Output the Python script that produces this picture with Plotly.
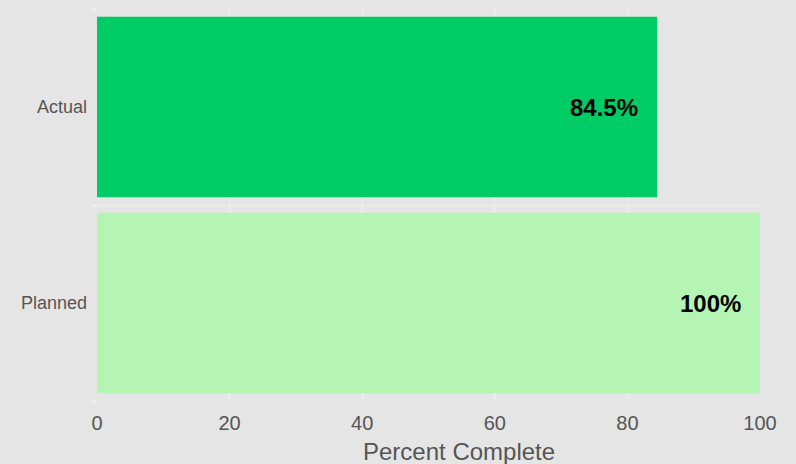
import plotly.graph_objects as go

stages = ["Planned", "Actual"]
percent = [100, 84.5]
labels = ["100%", "84.5%"]
bar_colors = ["#b4f5b4", "#00cc66"]

fig = go.Figure(go.Bar(
    x=percent, y=stages, orientation="h",
    marker=dict(color=bar_colors, line=dict(width=0)),
    hoverinfo="skip",
))

for val, stage, lab in zip(percent, stages, labels):
    fig.add_annotation(x=val, y=stage, text="<b>" + lab + "</b>", showarrow=False,
                       xanchor="right", xshift=-17,
                       font=dict(family="Arial", size=24, color="black"))

# axis title as annotation (sits right of centre in the original)
fig.add_annotation(x=0.546, y=-0.128, xref="paper", yref="paper",
                   text="Percent Complete", showarrow=False,
                   xanchor="center", yanchor="middle",
                   font=dict(family="Arial", size=24, color="#555555"))

fig.update_layout(
    width=796, height=464,
    margin=dict(l=97, r=36, t=9, b=63),
    paper_bgcolor="#e5e5e5", plot_bgcolor="#e5e5e5",
    bargap=0.08,
    showlegend=False,
    font=dict(family="Arial", color="#555555"),
)
fig.update_xaxes(
    range=[0, 100], dtick=20,
    tickfont=dict(size=20, color="#555555"),
    ticklabelstandoff=8,
    showgrid=True, gridcolor="#eaeaea", gridwidth=3,
    zeroline=False, showline=False, ticks="",
)
fig.update_yaxes(
    tickson="boundaries", ticks="outside", ticklen=5, tickcolor="#eeeeee", tickwidth=3,
    ticklabelstandoff=9,
    tickfont=dict(size=18, color="#555555"),
    showgrid=True, gridcolor="#eaeaea", gridwidth=3,
    zeroline=False, showline=False,
)

fig.write_html("out.html", config={"displayModeBar": False},
               post_script="document.body.style.margin='0';")
